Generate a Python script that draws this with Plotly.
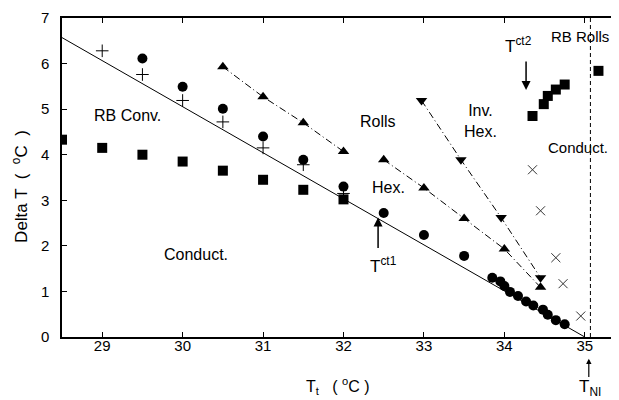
import plotly.graph_objects as go

# ---- data ----
sq_low_T = [28.5, 29.0, 29.5, 30.0, 30.5, 31.0, 31.5, 32.0]
sq_low_dT = [4.33, 4.15, 4.00, 3.85, 3.65, 3.45, 3.23, 3.02]

plus_T = [29.0, 29.5, 30.0, 30.5, 31.0, 31.5, 32.0]
plus_dT = [6.28, 5.76, 5.19, 4.72, 4.15, 3.78, 3.15]

circ_T = [29.5, 30.0, 30.5, 31.0, 31.5, 32.0, 32.5, 33.0, 33.5,
          33.85, 33.95, 34.0, 34.07, 34.17, 34.27, 34.36, 34.48, 34.54, 34.64, 34.75]
circ_dT = [6.11, 5.49, 5.01, 4.40, 3.89, 3.30, 2.72, 2.24, 1.78,
           1.30, 1.22, 1.12, 0.99, 0.90, 0.78, 0.69, 0.60, 0.49, 0.37, 0.28]

triA_T = [30.5, 31.0, 31.5, 32.0]
triA_dT = [5.93, 5.27, 4.70, 4.07]

triB_T = [32.5, 33.0, 33.5, 34.0, 34.45]
triB_dT = [3.89, 3.27, 2.60, 1.93, 1.09]

tdn_T = [32.97, 33.46, 33.96, 34.45]
tdn_dT = [5.19, 3.89, 2.62, 1.30]

x_T = [34.35, 34.45, 34.64, 34.73, 34.95]
x_dT = [3.67, 2.77, 1.74, 1.17, 0.46]

sq_up_T = [34.35, 34.49, 34.54, 34.64, 34.75, 35.17]
sq_up_dT = [4.85, 5.11, 5.29, 5.43, 5.54, 5.84]

line_T = [28.5, 35.0]
line_dT = [6.57, 0.0]

T_NI = 35.07
x_ticks = [29, 30, 31, 32, 33, 34, 35]
y_ticks = [0, 1, 2, 3, 4, 5, 6, 7]

FONT = "Liberation Sans, Arial, sans-serif"
DASHDOT = "7px,3px,1px,3px"
fig = go.Figure()

fig.add_trace(go.Scatter(x=line_T, y=line_dT, mode="lines",
                         line=dict(color="black", width=1)))
fig.add_trace(go.Scatter(x=[T_NI, T_NI], y=[0, 7], mode="lines",
                         line=dict(color="black", width=1, dash="4px,3px")))
fig.add_trace(go.Scatter(x=triA_T, y=triA_dT, mode="lines+markers",
                         line=dict(color="black", width=1, dash=DASHDOT),
                         marker=dict(symbol="triangle-up", size=10, color="black")))
fig.add_trace(go.Scatter(x=triB_T, y=triB_dT, mode="lines+markers",
                         line=dict(color="black", width=1, dash=DASHDOT),
                         marker=dict(symbol="triangle-up", size=10, color="black")))
fig.add_trace(go.Scatter(x=tdn_T, y=tdn_dT, mode="lines+markers",
                         line=dict(color="black", width=1, dash=DASHDOT),
                         marker=dict(symbol="triangle-down", size=10, color="black")))
fig.add_trace(go.Scatter(x=sq_low_T, y=sq_low_dT, mode="markers",
                         marker=dict(symbol="square", size=10, color="black")))
fig.add_trace(go.Scatter(x=sq_up_T, y=sq_up_dT, mode="markers",
                         marker=dict(symbol="square", size=10, color="black")))
fig.add_trace(go.Scatter(x=circ_T, y=circ_dT, mode="markers",
                         marker=dict(symbol="circle", size=10, color="black")))
fig.add_trace(go.Scatter(x=plus_T, y=plus_dT, mode="markers",
                         marker=dict(symbol="cross-thin", size=9,
                                     line=dict(color="black", width=1))))
fig.add_trace(go.Scatter(x=x_T, y=x_dT, mode="markers",
                         marker=dict(symbol="x-thin", size=9,
                                     line=dict(color="#333", width=1))))

ann = []
def txt(x, y, s, xanchor="center", xref="x", yref="y", size=16, angle=0):
    ann.append(dict(x=x, y=y, text=s, showarrow=False, xanchor=xanchor,
                    yanchor="middle", xref=xref, yref=yref, textangle=angle,
                    font=dict(family=FONT, size=size, color="black")))

txt(29.32, 4.87, "RB Conv.")
txt(30.16, 1.82, "Conduct.")
txt(32.43, 4.73, "Rolls")
txt(32.56, 3.27, "Hex.")
txt(33.47, 4.73, "Inv.<br>Hex.", xanchor="left")
txt(34.92, 4.16, "Conduct.", size=15)
txt(34.94, 6.6, "RB Rolls", size=15)
txt(34.18, 6.4, "T<sup>ct2</sup>", size=17)
txt(32.5, 1.58, "T<sup>ct1</sup>", size=17)

def arrow(x, y_tip, y_tail, yref="y"):
    ann.append(dict(x=x, y=y_tip, ax=x, ay=y_tail, xref="x", yref=yref,
                    axref="x", ayref=yref, showarrow=True, arrowhead=2,
                    arrowsize=1.2, arrowwidth=1.5, arrowcolor="black", text=""))

arrow(34.27, 5.42, 6.08)
arrow(32.43, 2.62, 1.92)
# T_NI arrow below the "35" tick label (y in axis-domain units)
ann.append(dict(x=35.05, y=-0.068, ax=35.05, ay=-0.13, xref="x", yref="y domain",
                axref="x", ayref="y domain", showarrow=True, arrowhead=2,
                arrowsize=0.9, arrowwidth=1.2, arrowcolor="black", text=""))
txt(35.07, -0.16, "T<sub>NI</sub>", yref="y domain", size=17)
txt(0.49, -0.155, "T<sub>t</sub>   ( <sup>o</sup>C )", xref="paper", yref="paper", size=16)
txt(-0.075, 0.473, "Delta T  (  <sup>o</sup>C  )", xref="paper", yref="paper",
    size=17, angle=-90)

fig.update_layout(
    width=619, height=400, showlegend=False,
    margin=dict(l=54, r=0, t=10, b=71),
    paper_bgcolor="white", plot_bgcolor="white",
    font=dict(family=FONT, size=15, color="black"),
    annotations=ann,
)
fig.update_xaxes(range=[28.5, 35.5], tickvals=x_ticks, ticks="inside", ticklen=5,
                 showgrid=False, zeroline=False, showline=True, linecolor="black",
                 linewidth=1.5, mirror="ticks", tickcolor="black",
                 ticklabelstandoff=-6)
fig.update_yaxes(range=[0, 7], tickvals=y_ticks, ticks="inside", ticklen=5,
                 showgrid=False, zeroline=False, showline=True, linecolor="black",
                 linewidth=1.5, mirror="ticks", tickcolor="black",
                 ticklabelstandoff=8)

fig.write_html("out.html")
